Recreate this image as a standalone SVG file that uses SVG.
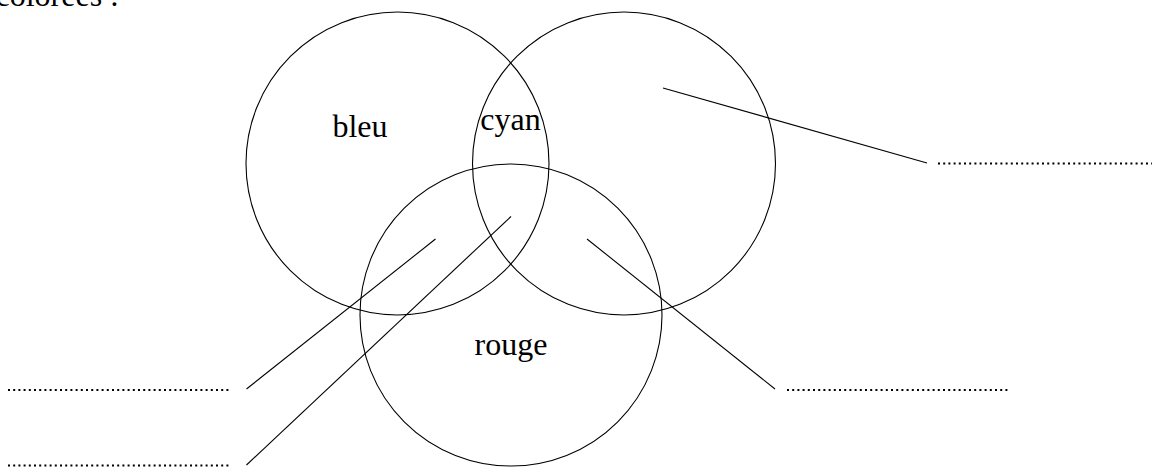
<svg xmlns="http://www.w3.org/2000/svg" width="1152" height="467" viewBox="0 0 1152 467">
<style>
.c{fill:none;stroke:#000;stroke-width:1.1}
.l{stroke:#000;stroke-width:1.1;fill:none}
.d{stroke:#000;stroke-width:2;stroke-dasharray:2 3.2;fill:none}
.t{font-family:"Liberation Serif","DejaVu Serif",serif;font-size:32px;fill:#000}
</style>
<rect width="1152" height="467" fill="#fff"/>
<text class="t" x="119" y="6" text-anchor="end">colorées :</text>
<g id="bleu"><circle class="c" cx="397.5" cy="163.5" r="151.5"/><text class="t" x="360" y="137" text-anchor="middle">bleu</text></g>
<g id="vert"><circle class="c" cx="624" cy="163.5" r="151.5"/></g>
<g id="rouge"><circle class="c" cx="511" cy="315" r="151"/><text class="t" x="511" y="355" text-anchor="middle">rouge</text></g>
<g id="cyan"><text class="t" x="510.5" y="130" text-anchor="middle">cyan</text></g>
<g id="connectors">
<line class="l" x1="663" y1="88" x2="927" y2="163"/>
<line class="l" x1="435.5" y1="239" x2="246.5" y2="389"/>
<line class="l" x1="511" y1="216.5" x2="246.5" y2="465"/>
<line class="l" x1="587" y1="239" x2="775" y2="389"/>
</g>
<g id="blanks">
<line class="d" x1="8" y1="390" x2="230" y2="390"/>
<line class="d" x1="8" y1="465.5" x2="230" y2="465.5"/>
<line class="d" x1="787" y1="390" x2="1009" y2="390"/>
<line class="d" x1="938" y1="163.5" x2="1152" y2="163.5"/>
</g>
</svg>
